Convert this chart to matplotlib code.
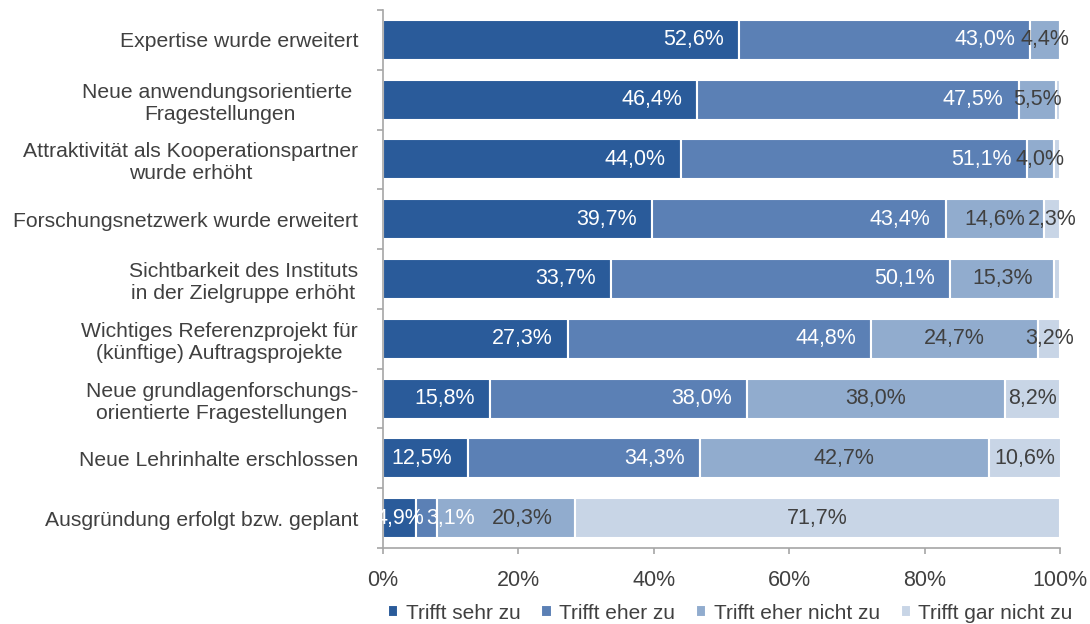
import numpy as np
import matplotlib.pyplot as plt

plt.rcParams['font.family'] = ['Liberation Sans', 'DejaVu Sans']

categories = [
    "Expertise wurde erweitert",
    "Neue anwendungsorientierte \nFragestellungen",
    "Attraktivität als Kooperationspartner\nwurde erhöht",
    "Forschungsnetzwerk wurde erweitert",
    "Sichtbarkeit des Instituts\nin der Zielgruppe erhöht",
    "Wichtiges Referenzprojekt für\n(künftige) Auftragsprojekte",
    "Neue grundlagenforschungs-\norientierte Fragestellungen",
    "Neue Lehrinhalte erschlossen",
    "Ausgründung erfolgt bzw. geplant",
]
series_names = ["Trifft sehr zu", "Trifft eher zu", "Trifft eher nicht zu", "Trifft gar nicht zu"]
sehr = [52.6, 46.4, 44.0, 39.7, 33.7, 27.3, 15.8, 12.5, 4.9]
eher = [43.0, 47.5, 51.1, 43.4, 50.1, 44.8, 38.0, 34.3, 3.1]
eher_nicht = [4.4, 5.5, 4.0, 14.6, 15.3, 24.7, 38.0, 42.7, 20.3]
gar_nicht = [0.0, 0.6, 0.9, 2.3, 0.9, 3.2, 8.2, 10.6, 71.7]

colors = ["#2A5B9A", "#5B80B5", "#91ACCE", "#C8D5E6"]
text_colors = ["white", "white", "#404040", "#404040"]
grey = "#A6A6A6"
fs = 15.5

fig = plt.figure(figsize=(10.9, 6.24), dpi=100)
ax = fig.add_axes([0.3514, 0.1218, 0.6211, 0.8622])

y = np.arange(len(categories))
left = np.zeros(len(categories))
prev = np.full(len(categories), 100.0)
for i, vals in enumerate([sehr, eher, eher_nicht, gar_nicht]):
    vals = np.array(vals)
    ax.barh(y, vals, left=left, height=0.67, color=colors[i],
            edgecolor="white", linewidth=1.5, label=series_names[i])
    for j, v in enumerate(vals):
        if v < 2:
            continue
        txt = f"{v:.1f}%".replace(".", ",")
        if i < 2:
            # inside end, except very small segments
            if v < 6 and i == 0:
                ax.text(left[j] + v / 2, j, txt, ha="center", va="center",
                        color=text_colors[i], fontsize=fs)
            elif v < 6:
                ax.annotate(txt, (left[j], j), xytext=(7, 0),
                            textcoords="offset points", ha="left", va="center",
                            color=text_colors[i], fontsize=fs)
            else:
                ax.annotate(txt, (left[j] + v, j), xytext=(-11, 0),
                            textcoords="offset points", ha="right", va="center",
                            color=text_colors[i], fontsize=fs)
        else:
            dx = 12 if (i == 2 and prev[j] < 6) else 0
            ax.annotate(txt, (left[j] + v / 2, j), xytext=(dx, 0),
                        textcoords="offset points", ha="center", va="center",
                        color=text_colors[i], fontsize=fs)
    left += vals
    prev = vals

ax.set_xlim(0, 100)
ax.set_ylim(len(categories) - 0.5, -0.5)
ax.set_xticks(np.arange(0, 101, 20))
ax.set_xticklabels([f"{t}%" for t in range(0, 101, 20)])
ax.set_yticks(y)
ax.set_yticklabels(categories, multialignment="center")
ax.set_yticks(np.arange(-0.5, len(categories), 1), minor=True)

for s in ["top", "right"]:
    ax.spines[s].set_visible(False)
for s in ["left", "bottom"]:
    ax.spines[s].set_color(grey)
    ax.spines[s].set_linewidth(1.2)

ax.tick_params(axis="y", which="major", length=0, pad=18, labelsize=15.2, labelcolor="#404040")
ax.tick_params(axis="y", which="minor", length=4, color=grey, width=1.2)
ax.tick_params(axis="x", length=4, color=grey, width=1.2, pad=12, labelsize=fs, labelcolor="#404040")

leg = fig.legend(loc="lower center", bbox_to_anchor=(0.67, -0.028), ncol=4, frameon=False,
                 fontsize=15, handlelength=0.5, handleheight=0.5, handletextpad=0.35,
                 columnspacing=1.0, labelcolor="#404040")

fig.savefig("out.png", dpi=100)
